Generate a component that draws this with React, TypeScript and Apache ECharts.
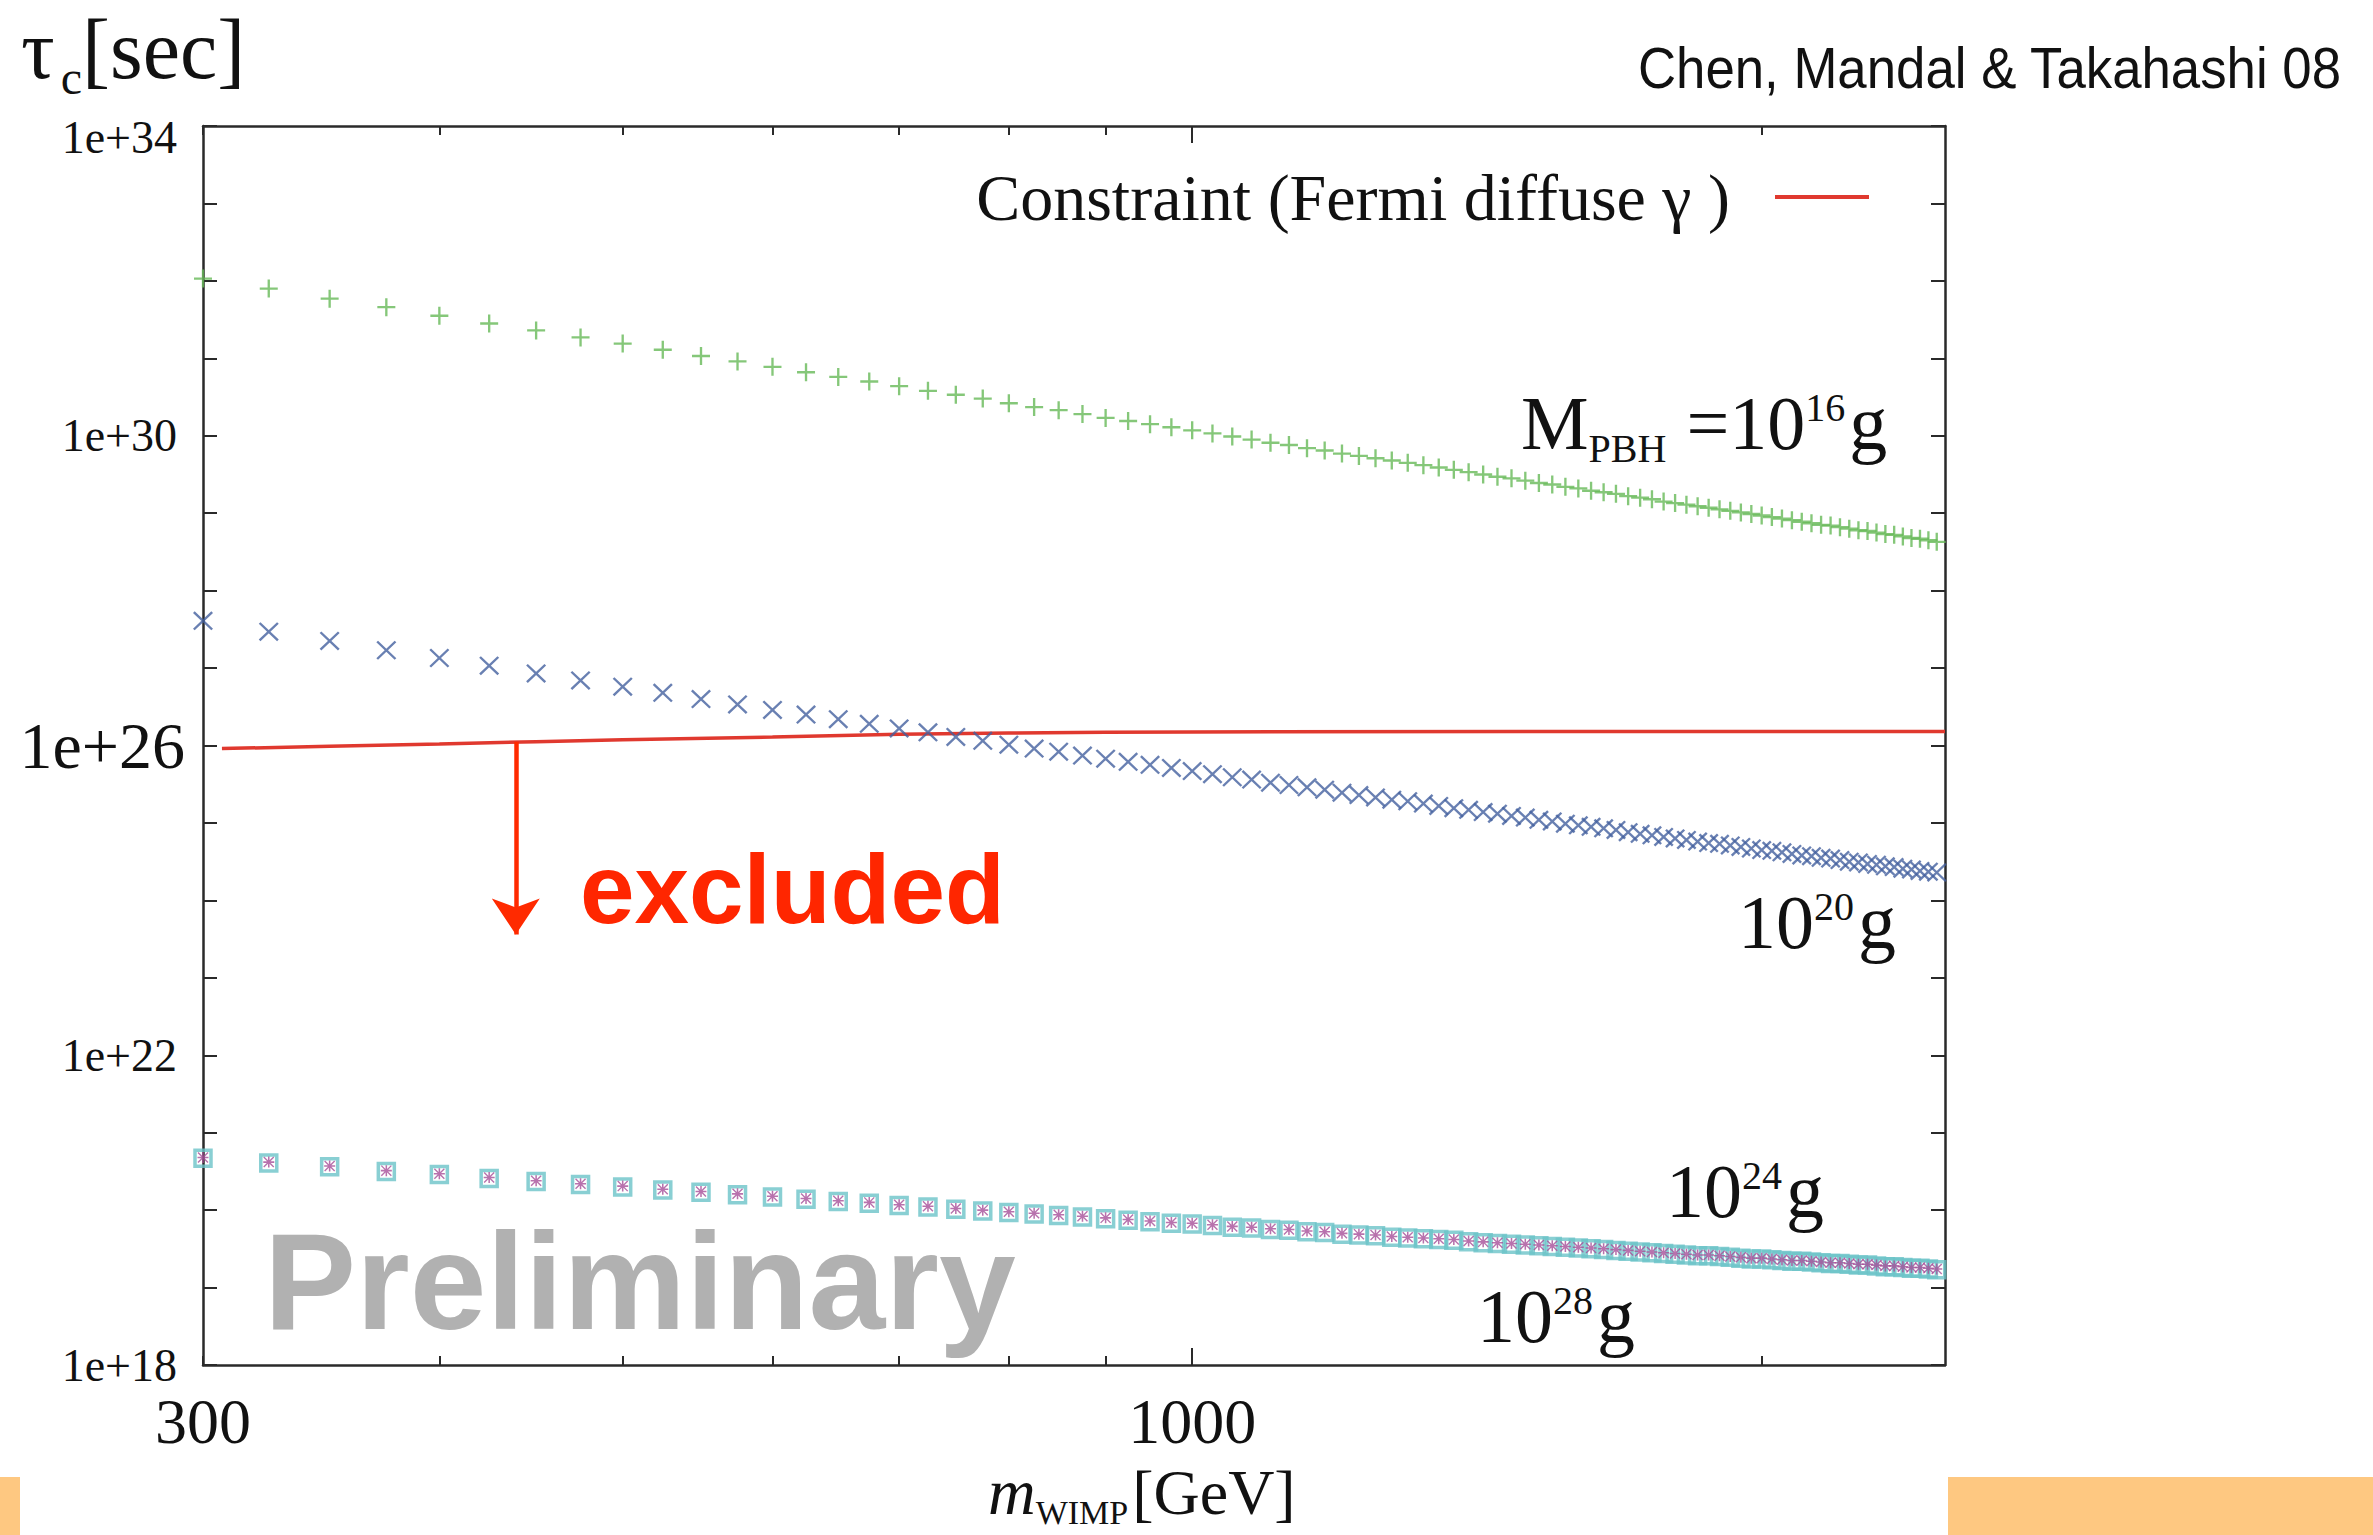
import React, { useEffect, useRef } from "react";
import * as echarts from "echarts";

const W = 2373;
const H = 1535;

// WIMP mass grid [GeV]
const massGeV = [
  300, 325, 350, 375, 400, 425, 450, 475, 500, 525, 550, 575, 600, 625, 650, 675, 700, 725, 750, 775,
  800, 825, 850, 875, 900, 925, 950, 975, 1000, 1025, 1050, 1075, 1100, 1125, 1150, 1175, 1200, 1225,
  1250, 1275, 1300, 1325, 1350, 1375, 1400, 1425, 1450, 1475, 1500, 1525, 1550, 1575, 1600, 1625, 1650,
  1675, 1700, 1725, 1750, 1775, 1800, 1825, 1850, 1875, 1900, 1925, 1950, 1975, 2000, 2025, 2050, 2075,
  2100, 2125, 2150, 2175, 2200, 2225, 2250, 2275, 2300, 2325, 2350, 2375, 2400, 2425, 2450, 2475,
];

// log10(tau_c / sec) for each PBH mass
const tau16 = [
  32.03, 31.9, 31.77, 31.66, 31.55, 31.45, 31.36, 31.27, 31.19, 31.11, 31.03, 30.96, 30.89, 30.82, 30.76,
  30.7, 30.64, 30.58, 30.53, 30.48, 30.42, 30.37, 30.33, 30.28, 30.23, 30.19, 30.15, 30.11, 30.07, 30.03,
  29.99, 29.95, 29.91, 29.88, 29.84, 29.81, 29.77, 29.74, 29.71, 29.68, 29.65, 29.62, 29.59, 29.56, 29.53,
  29.5, 29.47, 29.45, 29.42, 29.39, 29.37, 29.34, 29.32, 29.29, 29.27, 29.25, 29.22, 29.2, 29.18, 29.15,
  29.13, 29.11, 29.09, 29.07, 29.05, 29.03, 29.01, 28.99, 28.97, 28.95, 28.93, 28.91, 28.89, 28.87, 28.85,
  28.84, 28.82, 28.8, 28.78, 28.77, 28.75, 28.73, 28.72, 28.7, 28.68, 28.67, 28.65, 28.63,
];
const tau20 = [
  27.61, 27.47, 27.35, 27.23, 27.13, 27.03, 26.93, 26.84, 26.76, 26.68, 26.6, 26.53, 26.46, 26.4, 26.34,
  26.28, 26.22, 26.17, 26.11, 26.06, 26.01, 25.96, 25.92, 25.87, 25.83, 25.79, 25.75, 25.71, 25.67, 25.63,
  25.59, 25.56, 25.52, 25.49, 25.46, 25.43, 25.39, 25.36, 25.33, 25.3, 25.28, 25.25, 25.22, 25.19, 25.17,
  25.14, 25.12, 25.09, 25.07, 25.04, 25.02, 24.99, 24.97, 24.95, 24.93, 24.91, 24.88, 24.86, 24.84, 24.82,
  24.8, 24.78, 24.76, 24.74, 24.73, 24.71, 24.69, 24.67, 24.65, 24.64, 24.62, 24.6, 24.58, 24.57, 24.55,
  24.54, 24.52, 24.5, 24.49, 24.47, 24.46, 24.44, 24.43, 24.41, 24.4, 24.38, 24.37, 24.36,
];
const tau24 = [
  20.68, 20.62, 20.57, 20.51, 20.47, 20.42, 20.38, 20.34, 20.31, 20.27, 20.24, 20.21, 20.18, 20.15, 20.12,
  20.1, 20.07, 20.05, 20.02, 20.0, 19.98, 19.96, 19.94, 19.92, 19.9, 19.88, 19.86, 19.84, 19.83, 19.81,
  19.79, 19.78, 19.76, 19.75, 19.73, 19.72, 19.7, 19.69, 19.68, 19.66, 19.65, 19.64, 19.63, 19.62, 19.6,
  19.59, 19.58, 19.57, 19.56, 19.55, 19.54, 19.53, 19.52, 19.51, 19.5, 19.49, 19.48, 19.47, 19.46, 19.45,
  19.44, 19.43, 19.42, 19.42, 19.41, 19.4, 19.39, 19.38, 19.38, 19.37, 19.36, 19.35, 19.35, 19.34, 19.33,
  19.32, 19.32, 19.31, 19.3, 19.3, 19.29, 19.28, 19.28, 19.27, 19.26, 19.26, 19.25, 19.24,
];
const tau28 = [
  20.67, 20.61, 20.56, 20.5, 20.46, 20.41, 20.37, 20.33, 20.3, 20.26, 20.23, 20.2, 20.17, 20.14, 20.11,
  20.09, 20.06, 20.04, 20.01, 19.99, 19.97, 19.95, 19.93, 19.91, 19.89, 19.87, 19.85, 19.83, 19.82, 19.8,
  19.78, 19.77, 19.75, 19.74, 19.72, 19.71, 19.69, 19.68, 19.67, 19.65, 19.64, 19.63, 19.62, 19.61, 19.59,
  19.58, 19.57, 19.56, 19.55, 19.54, 19.53, 19.52, 19.51, 19.5, 19.49, 19.48, 19.47, 19.46, 19.45, 19.44,
  19.43, 19.42, 19.41, 19.41, 19.4, 19.39, 19.38, 19.37, 19.37, 19.36, 19.35, 19.34, 19.34, 19.33, 19.32,
  19.31, 19.31, 19.3, 19.29, 19.29, 19.28, 19.27, 19.27, 19.26, 19.25, 19.25, 19.24, 19.23,
];

// Fermi diffuse gamma constraint: log10(tau / sec)
const constraintMass = [307, 350, 400, 450, 500, 600, 700, 800, 900, 1000, 1500, 2000, 2500];
const constraintTau = [25.96, 25.99, 26.02, 26.05, 26.075, 26.11, 26.145, 26.16, 26.17, 26.175, 26.18, 26.18, 26.18];

// excluded-region arrow (mass, from, to) in log10 tau
const arrowMass = 439;
const arrowFrom = 26.05;
const arrowTo = 23.56;

// axes
const X_MIN = 300;
const X_MAX = 2500;
const xLabelTicks = [300, 1000];
const xMajorTicks = [1000];
const xMinorTicks = [300, 400, 500, 600, 700, 800, 900, 2000];
const Y_MIN = 18;
const Y_MAX = 34;
const yLabelStep = 4;

const LEGEND_NAME = "Constraint (Fermi diffuse γ )";
const SERIF = '"Liberation Serif", "Times New Roman", serif';
const SANS = '"Liberation Sans", Arial, sans-serif';
const RED = "#e0392f";
const GREEN = "#66b957";
const BLUE = "#44609f";
const MAGENTA = "#a64f98";
const CYAN = "#6cc3c8";
const AXIS = "#2a2a2a";
const INK = "#111111";

const L = Math.log10;
const pts = (xs: number[], ys: number[]) => {
  const n = Math.min(xs.length, ys.length);
  const out: number[][] = [];
  for (let i = 0; i < n; i++) out.push([L(xs[i]), ys[i]]);
  return out;
};

const PLUS = "path://M0,4.35L10,4.35L10,5.65L0,5.65Z M4.35,0L5.65,0L5.65,10L4.35,10Z";
const CROSS = "path://M0,0.85L0.85,0L10,9.15L9.15,10Z M9.15,0L10,0.85L0.85,10L0,9.15Z";
const STAR =
  "path://M0,4.3L10,4.3L10,5.7L0,5.7Z M4.3,0L5.7,0L5.7,10L4.3,10Z M0,0.9L0.9,0L10,9.1L9.1,10Z M9.1,0L10,0.9L0.9,10L0,9.1Z";

let measureCtx: CanvasRenderingContext2D | null = null;
function measure(text: string, font: string) {
  if (!measureCtx) measureCtx = document.createElement("canvas").getContext("2d");
  if (!measureCtx) return text.length * 20;
  measureCtx.font = font;
  return measureCtx.measureText(text).width;
}

type Piece = { t: string; size: number; dy?: number; gap?: number; italic?: boolean };
function mathText(pieces: Piece[], x0: number, base: number, color = INK) {
  let x = x0;
  const out: any[] = [];
  for (const p of pieces) {
    const style = p.italic ? "italic" : "normal";
    const font = `${style} ${p.size}px ${SERIF}`;
    out.push({
      type: "text",
      x,
      y: base + (p.dy || 0) - 0.3375 * p.size,
      silent: true,
      z: 100,
      style: {
        text: p.t,
        fontSize: p.size,
        fontFamily: SERIF,
        fontStyle: style,
        fill: color,
        align: "left",
        textAlign: "left",
        verticalAlign: "middle",
        textVerticalAlign: "middle",
      },
    });
    x += measure(p.t, font) + (p.gap || 0);
  }
  return out;
}

function plainText(
  text: string,
  x: number,
  base: number,
  size: number,
  family: string,
  color: string,
  opts: { bold?: boolean; align?: string; scaleX?: number } = {}
) {
  return {
    type: "text",
    x,
    y: base - 0.3465 * size,
    scaleX: opts.scaleX || 1,
    silent: true,
    z: 100,
    style: {
      text,
      fontSize: size,
      fontFamily: family,
      fontWeight: opts.bold ? "bold" : "normal",
      fill: color,
      align: opts.align || "left",
      textAlign: opts.align || "left",
      verticalAlign: "middle",
      textVerticalAlign: "middle",
    },
  };
}

function buildOption() {
  const xBase = {
    type: "value",
    min: L(X_MIN),
    max: L(X_MAX),
    gridIndex: 0,
    splitLine: { show: false },
  };
  const lineOn = { show: true, onZero: false, lineStyle: { color: AXIS, width: 2.5 } };
  const lineOff = { show: false, onZero: false };
  const tickStyle = { color: AXIS, width: 2 };
  const majorTick = { show: true, inside: true, length: 17, customValues: xMajorTicks.map(L), lineStyle: tickStyle };
  const minorTick = { show: true, inside: true, length: 9, customValues: xMinorTicks.map(L), lineStyle: tickStyle };

  const yBase = {
    type: "value",
    min: Y_MIN,
    max: Y_MAX,
    interval: 1,
    splitLine: { show: false },
  };
  const yTick = { show: true, inside: true, length: 14, lineStyle: tickStyle };

  const graphics: any[] = [
    // orange slide bars
    { type: "rect", shape: { x: 0, y: 1477, width: 20, height: 58 }, style: { fill: "#fec881" }, silent: true },
    { type: "rect", shape: { x: 1948, y: 1477, width: 425, height: 58 }, style: { fill: "#fec881" }, silent: true },
    // citation
    plainText("Chen, Mandal & Takahashi 08", 2341, 88, 58, SANS, INK, { align: "right", scaleX: 0.91 }),
    // watermarks / annotations
    plainText("Preliminary", 264, 1329, 138, SANS, "#b1b1b1", { bold: true }),
    plainText("excluded", 580, 923, 98, SANS, "#ff2600", { bold: true }),
    // axis titles
    ...mathText(
      [
        { t: "τ", size: 84, gap: 6 },
        { t: "c", size: 48, dy: 16 },
        { t: "[sec]", size: 84 },
      ],
      21,
      78
    ),
    ...mathText(
      [
        { t: "m", size: 66, italic: true },
        { t: "WIMP", size: 34, dy: 10, gap: 4 },
        { t: "[GeV]", size: 64 },
      ],
      988,
      1514
    ),
    // curve labels
    ...mathText(
      [
        { t: "M", size: 76 },
        { t: "PBH", size: 40, dy: 13, gap: 20 },
        { t: "=10", size: 76 },
        { t: "16", size: 40, dy: -28, gap: 4 },
        { t: "g", size: 76 },
      ],
      1521,
      449
    ),
    ...mathText(
      [
        { t: "10", size: 76 },
        { t: "20", size: 40, dy: -28, gap: 4 },
        { t: "g", size: 76 },
      ],
      1738,
      948
    ),
    ...mathText(
      [
        { t: "10", size: 76 },
        { t: "24", size: 40, dy: -28, gap: 4 },
        { t: "g", size: 76 },
      ],
      1666,
      1217
    ),
    ...mathText(
      [
        { t: "10", size: 76 },
        { t: "28", size: 40, dy: -28, gap: 4 },
        { t: "g", size: 76 },
      ],
      1477,
      1342
    ),
  ];

  return {
    animation: false,
    backgroundColor: "#ffffff",
    grid: { left: 203, right: 428, top: 126, bottom: 170, containLabel: false },
    legend: {
      show: true,
      data: [{ name: LEGEND_NAME, icon: "rect" }],
      right: 504,
      top: 164,
      align: "right",
      orient: "vertical",
      itemWidth: 94,
      itemHeight: 4,
      padding: 0,
      selectedMode: false,
      textStyle: { fontFamily: SERIF, fontSize: 66, color: INK, padding: [0, 40, 0, 0] },
    },
    xAxis: [
      {
        ...xBase,
        position: "bottom",
        axisLine: lineOn,
        axisTick: majorTick,
        axisLabel: {
          show: true,
          customValues: xLabelTicks.map(L),
          formatter: (v: number) => String(Math.round(Math.pow(10, v))),
          fontFamily: SERIF,
          fontSize: 64,
          color: INK,
          margin: 24,
        },
      },
      { ...xBase, position: "bottom", axisLine: lineOff, axisTick: minorTick, axisLabel: { show: false } },
      { ...xBase, position: "top", axisLine: lineOn, axisTick: majorTick, axisLabel: { show: false } },
      { ...xBase, position: "top", axisLine: lineOff, axisTick: minorTick, axisLabel: { show: false } },
    ],
    yAxis: [
      {
        ...yBase,
        position: "left",
        axisLine: lineOn,
        axisTick: yTick,
        axisLabel: {
          show: true,
          margin: 18,
          fontFamily: SERIF,
          color: INK,
          formatter: (v: number) => {
            const e = Math.round(v);
            if ((e - Y_MIN) % yLabelStep !== 0) return "";
            if (e === 26) return "{big|1e+26}";
            if (e === Y_MAX) return "{top|1e+" + e + "}";
            return "{n|1e+" + e + "}";
          },
          rich: {
            n: { fontFamily: SERIF, fontSize: 46, color: INK, padding: [0, 8, 0, 0] },
            big: { fontFamily: SERIF, fontSize: 66, color: INK },
            top: { fontFamily: SERIF, fontSize: 46, color: INK, padding: [22, 8, 0, 0] },
          },
        },
      },
      { ...yBase, position: "right", axisLine: lineOn, axisTick: yTick, axisLabel: { show: false } },
    ],
    series: [
      {
        name: LEGEND_NAME,
        type: "line",
        data: pts(constraintMass, constraintTau),
        showSymbol: false,
        symbol: "none",
        color: RED,
        itemStyle: { color: RED },
        lineStyle: { color: RED, width: 3.5 },
        z: 3,
        markLine: {
          silent: true,
          animation: false,
          symbol: ["none", "arrow"],
          symbolSize: 36,
          itemStyle: { color: "#ff2a00" },
          lineStyle: { color: "#ff2a00", width: 4.5, type: "solid" },
          label: { show: false },
          emphasis: { disabled: true },
          data: [[{ coord: [L(arrowMass), arrowFrom] }, { coord: [L(arrowMass), arrowTo] }]],
        },
      },
      {
        name: "M_PBH = 1e16 g",
        type: "scatter",
        data: pts(massGeV, tau16),
        symbol: PLUS,
        symbolSize: 18,
        itemStyle: { color: GREEN },
        z: 4,
      },
      {
        name: "1e20 g",
        type: "scatter",
        data: pts(massGeV, tau20),
        symbol: CROSS,
        symbolSize: [20, 19],
        itemStyle: { color: BLUE },
        z: 4,
      },
      {
        name: "1e28 g",
        type: "scatter",
        data: pts(massGeV, tau28),
        symbol: "rect",
        symbolSize: 16,
        itemStyle: { color: "rgba(0,0,0,0)", borderColor: CYAN, borderWidth: 3.5 },
        z: 4,
      },
      {
        name: "1e24 g",
        type: "scatter",
        data: pts(massGeV, tau24),
        symbol: STAR,
        symbolSize: 11,
        itemStyle: { color: MAGENTA },
        z: 5,
      },
    ],
    graphic: { elements: graphics },
  };
}

export default function App() {
  const ref = useRef<HTMLDivElement>(null);
  useEffect(() => {
    const el = ref.current;
    if (!el) return;
    const chart = echarts.init(el, null, { renderer: "svg" });
    chart.setOption(buildOption() as any);
    return () => chart.dispose();
  }, []);
  return (
    <div
      ref={ref}
      style={{ position: "fixed", left: 0, top: 0, width: W, height: H, background: "#ffffff" }}
    />
  );
}
